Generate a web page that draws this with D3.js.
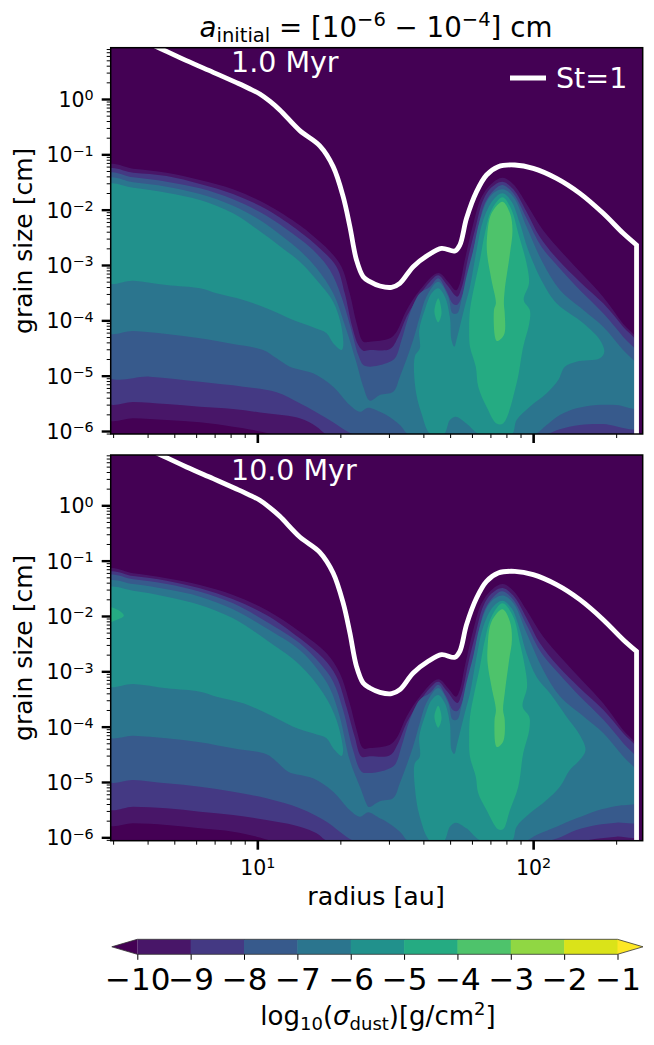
<!DOCTYPE html>
<html>
<head>
<meta charset="utf-8">
<script src="https://cdn.jsdelivr.net/npm/d3@7"></script>
<style>
body { margin: 0; background: #fff; }
text { font-family: "DejaVu Sans", sans-serif; fill: #000; }
</style>
</head>
<body>
<div id="d3_container"></div>
<script>
// all contour points are [log10 radius (au), log10 grain size (cm)]
var levels = [-10, -9, -8, -7, -6, -5, -4, -3, -2, -1];
var yMajorExp = [-6, -5, -4, -3, -2, -1, 0];
var xMajor = [10, 100];
var xMinor = [3, 4, 5, 6, 7, 8, 9, 20, 30, 40, 50, 60, 70, 80, 90, 200];
var panelNames = ["1.0 Myr", "10.0 Myr"];

// St=1 line, same in both panels
var stokes = [[0.62,0.98],[0.6525,0.9037],[0.7431,0.6928],[0.8398,0.482],[0.9244,0.2952],[0.97,0.19],[1.009,0.09],[1.045,-0.04],[1.0815,-0.1988],[1.1541,-0.5723],[1.2266,-0.8493],[1.2749,-1.2228],[1.3112,-1.765],[1.3353,-2.3],[1.3595,-2.9098],[1.3837,-3.211],[1.408,-3.3012],[1.4443,-3.3795],[1.4866,-3.4036],[1.5168,-3.3313],[1.5651,-3.0301],[1.6195,-2.8193],[1.6678,-2.6988],[1.7162,-2.747],[1.7343,-2.6385],[1.7585,-2.1566],[1.7948,-1.6747],[1.831,-1.3735],[1.8733,-1.2229],[1.9337,-1.1928],[2.0002,-1.253],[2.0848,-1.4337],[2.1694,-1.7048],[2.254,-2.0663],[2.3265,-2.4277],[2.3749,-2.6385]];
var stokesEnd = [2.3749, -6.2];

// upper edge of each level right of the gap, same in both panels
var ridgeM10 = [[1.408,-4.386],[1.481,-4.325],[1.505,-4.205],[1.541,-3.819],[1.589,-3.458],[1.656,-3.145],[1.692,-3.307],[1.72,-3.458],[1.734,-3.337],[1.752,-2.916],[1.783,-2.253],[1.813,-1.771],[1.849,-1.53],[1.889,-1.422],[1.928,-1.542],[1.976,-1.892],[2.036,-2.373],[2.109,-2.795],[2.182,-3.187],[2.254,-3.578],[2.326,-4.06],[2.39,-4.45]];
var ridgeM9 = [[1.408,-4.536],[1.481,-4.518],[1.511,-4.295],[1.541,-3.934],[1.589,-3.542],[1.626,-3.301],[1.656,-3.187],[1.688,-3.361],[1.725,-3.572],[1.74,-3.422],[1.765,-2.849],[1.789,-2.367],[1.819,-1.825],[1.849,-1.596],[1.889,-1.494],[1.928,-1.632],[1.976,-2.036],[2.024,-2.488],[2.091,-2.91],[2.169,-3.301],[2.254,-3.693],[2.326,-4.114],[2.39,-4.5]];
var ridgeM8 = [[1.408,-4.837],[1.468,-4.777],[1.499,-4.687],[1.523,-4.355],[1.553,-3.873],[1.589,-3.512],[1.626,-3.392],[1.656,-3.241],[1.684,-3.452],[1.71,-3.705],[1.725,-3.717],[1.746,-3.512],[1.771,-3.03],[1.797,-2.428],[1.825,-1.885],[1.861,-1.632],[1.889,-1.554],[1.928,-1.705],[1.976,-2.157],[2.03,-2.669],[2.091,-3.03],[2.169,-3.452],[2.254,-3.873],[2.326,-4.295],[2.39,-4.68]];
var ridgeM7 = [[1.408,-5.452],[1.444,-5.349],[1.493,-5.289],[1.517,-5.018],[1.565,-4.355],[1.589,-3.934],[1.613,-3.572],[1.656,-3.301],[1.692,-3.572],[1.708,-3.873],[1.725,-3.873],[1.74,-3.632],[1.758,-3.211],[1.783,-2.729],[1.807,-2.187],[1.843,-1.765],[1.889,-1.632],[1.928,-1.765],[1.976,-2.307],[2.036,-2.97],[2.097,-3.452],[2.182,-3.813],[2.254,-4.114],[2.326,-4.536],[2.39,-4.9]];

// 1.0 Myr panel
var topUpperM10 = [[0.45,-1.215],[0.55,-1.259],[0.671,-1.331],[0.792,-1.464],[0.912,-1.633],[1.033,-1.904],[1.154,-2.283],[1.196,-2.45],[1.263,-2.75],[1.305,-3.03],[1.335,-3.512],[1.36,-4.054],[1.384,-4.386]];
var topUpperM9 = [[0.45,-1.29],[0.55,-1.331],[0.671,-1.391],[0.792,-1.536],[0.912,-1.717],[1.033,-1.994],[1.154,-2.398],[1.227,-2.7],[1.287,-3.03],[1.317,-3.512],[1.344,-4.115],[1.366,-4.446],[1.384,-4.548]];
var topUpperM8 = [[0.45,-1.365],[0.55,-1.416],[0.671,-1.494],[0.792,-1.614],[0.912,-1.813],[1.033,-2.108],[1.13,-2.44],[1.202,-2.729],[1.263,-3.09],[1.305,-3.572],[1.341,-4.175],[1.366,-4.627],[1.384,-4.807]];
var topUpperM7 = [[0.45,-1.455],[0.55,-1.506],[0.671,-1.584],[0.792,-1.717],[0.912,-1.928],[1.009,-2.187],[1.088,-2.47],[1.154,-2.74],[1.215,-3.06],[1.275,-3.512],[1.323,-4.175],[1.36,-4.777],[1.384,-5.199]];
var topLowerM10 = [[0.45,-5.771],[0.55,-5.771],[0.671,-5.801],[0.792,-5.843],[0.912,-5.922],[0.985,-5.982],[1.057,-6.06],[1.2,-6.2],[2.39,-6.2]];
var topLowerM9 = [[0.45,-5.476],[0.55,-5.476],[0.671,-5.512],[0.792,-5.56],[0.912,-5.602],[1.033,-5.681],[1.154,-5.771],[1.215,-5.922],[1.251,-6.06],[1.4,-6.2],[2.39,-6.2]];
var topLowerM8 = [[0.45,-4.988],[0.61,-5.018],[0.792,-5.109],[0.949,-5.199],[1.07,-5.301],[1.154,-5.5],[1.251,-5.771],[1.299,-5.922],[1.347,-6.06],[1.45,-6.2],[1.95,-6.2],[2.049,-6.06],[2.097,-5.97],[2.169,-5.892],[2.254,-5.874],[2.39,-5.93]];
var topLowerM7 = [[0.45,-4.205],[0.55,-4.193],[0.671,-4.247],[0.792,-4.325],[0.912,-4.428],[1.021,-4.536],[1.07,-4.687],[1.118,-4.837],[1.202,-4.958],[1.275,-5.199],[1.335,-5.53],[1.372,-5.651],[1.402,-5.578],[1.444,-5.651],[1.468,-5.711],[1.517,-5.892],[1.547,-6.06],[1.65,-6.2],[1.9,-6.2],[2.006,-6.06],[2.049,-5.892],[2.097,-5.711],[2.157,-5.59],[2.23,-5.53],[2.302,-5.53],[2.39,-5.58]];
var topLeftM6 = [[0.45,-1.56],[0.55,-1.602],[0.671,-1.693],[0.792,-1.825],[0.912,-2.066],[1.003,-2.367],[1.082,-2.66],[1.154,-2.94],[1.215,-3.271],[1.275,-3.663],[1.305,-4.115],[1.311,-4.476],[1.305,-4.536],[1.275,-4.416],[1.251,-4.235],[1.202,-4.127],[1.13,-3.994],[1.033,-3.783],[0.949,-3.633],[0.852,-3.512],[0.792,-3.422],[0.671,-3.362],[0.55,-3.283],[0.45,-3.305]];
var topRightM6 = [[1.628,-6.06],[1.595,-5.681],[1.574,-5.259],[1.571,-4.656],[1.589,-4.506],[1.587,-4.175],[1.607,-3.813],[1.632,-3.512],[1.656,-3.422],[1.68,-3.572],[1.698,-3.934],[1.704,-4.355],[1.714,-4.476],[1.725,-4.295],[1.752,-3.753],[1.771,-3.392],[1.795,-2.729],[1.819,-2.187],[1.855,-1.825],[1.889,-1.705],[1.922,-1.855],[1.952,-2.247],[1.982,-2.729],[2.036,-3.331],[2.085,-3.693],[2.182,-4.054],[2.242,-4.355],[2.258,-4.566],[2.242,-4.687],[2.157,-4.747],[2.115,-4.837],[2.091,-5.078],[2.049,-5.319],[1.988,-5.56],[1.94,-5.801],[1.922,-6.06],[1.807,-6.06],[1.758,-5.862],[1.72,-5.741],[1.698,-5.801],[1.676,-6.06]];
var topIslandM5 = [[1.656,-3.602],[1.668,-3.873],[1.656,-4.036],[1.642,-3.843]];
var topMainM5 = [[1.768,-4.175],[1.771,-3.813],[1.789,-3.331],[1.807,-2.91],[1.825,-2.428],[1.849,-2.006],[1.889,-1.777],[1.922,-2.006],[1.946,-2.428],[1.976,-2.97],[1.985,-3.331],[1.966,-3.632],[1.988,-3.813],[1.986,-4.054],[1.964,-4.476],[1.94,-5.138],[1.891,-5.862],[1.867,-5.862],[1.831,-5.56],[1.801,-5.199],[1.792,-4.837],[1.771,-4.476]];
var topMainM4 = [[1.889,-1.855],[1.916,-2.066],[1.925,-2.367],[1.916,-2.789],[1.897,-3.452],[1.894,-3.705],[1.897,-3.873],[1.894,-4.265],[1.868,-4.373],[1.858,-3.813],[1.865,-3.693],[1.849,-3.271],[1.833,-2.789],[1.833,-2.488],[1.849,-2.066]];

// 10.0 Myr panel
var botUpperM10 = [[0.45,-1.175],[0.55,-1.229],[0.671,-1.32],[0.792,-1.44],[0.912,-1.621],[1.033,-1.892],[1.154,-2.283],[1.251,-2.675],[1.299,-3.036],[1.335,-3.579],[1.36,-4.06],[1.384,-4.392]];
var botUpperM9 = [[0.45,-1.235],[0.55,-1.277],[0.671,-1.362],[0.792,-1.5],[0.912,-1.699],[1.033,-1.982],[1.154,-2.404],[1.239,-2.765],[1.287,-3.097],[1.323,-3.639],[1.353,-4.181],[1.378,-4.542]];
var botUpperM8 = [[0.45,-1.295],[0.55,-1.338],[0.671,-1.422],[0.792,-1.56],[0.912,-1.771],[1.033,-2.103],[1.154,-2.494],[1.227,-2.856],[1.275,-3.187],[1.311,-3.699],[1.347,-4.422],[1.378,-4.814]];
var botUpperM7 = [[0.45,-1.395],[0.55,-1.422],[0.671,-1.518],[0.792,-1.651],[0.912,-1.88],[1.033,-2.223],[1.154,-2.615],[1.215,-2.946],[1.263,-3.307],[1.299,-3.82],[1.335,-4.603],[1.372,-5.085],[1.402,-5.446]];
var botLowerM10 = [[0.45,-5.747],[0.55,-5.747],[0.671,-5.777],[0.792,-5.837],[0.912,-5.898],[0.997,-5.988],[1.057,-6.066],[1.2,-6.2],[2.39,-6.2]];
var botLowerM9 = [[0.45,-5.464],[0.55,-5.446],[0.671,-5.476],[0.792,-5.536],[0.912,-5.596],[1.033,-5.687],[1.154,-5.807],[1.215,-5.928],[1.253,-6.066],[1.4,-6.2],[2.05,-6.2],[2.182,-6.066],[2.23,-6.024],[2.302,-5.988],[2.39,-5.965]];
var botLowerM8 = [[0.45,-4.964],[0.55,-4.964],[0.671,-5.024],[0.792,-5.085],[0.912,-5.175],[1.033,-5.295],[1.154,-5.476],[1.251,-5.717],[1.299,-5.898],[1.35,-6.066],[1.45,-6.2],[1.95,-6.2],[2.055,-6.066],[2.103,-5.988],[2.157,-5.868],[2.23,-5.777],[2.302,-5.735],[2.39,-5.7]];
var botLowerM7 = [[0.45,-4.163],[0.55,-4.163],[0.671,-4.211],[0.792,-4.283],[0.912,-4.392],[1.033,-4.5],[1.07,-4.633],[1.112,-4.813],[1.202,-4.934],[1.275,-5.175],[1.335,-5.506],[1.372,-5.627],[1.402,-5.548],[1.444,-5.657],[1.468,-5.717],[1.517,-5.898],[1.547,-6.066],[1.65,-6.2],[1.85,-6.2],[1.974,-6.066],[2.012,-5.958],[2.085,-5.807],[2.157,-5.657],[2.23,-5.518],[2.302,-5.434],[2.39,-5.345]];
var botLeftM6 = [[0.45,-1.51],[0.55,-1.542],[0.671,-1.651],[0.792,-1.801],[0.912,-2.042],[1.033,-2.434],[1.154,-2.886],[1.239,-3.398],[1.287,-3.88],[1.311,-4.452],[1.305,-4.53],[1.275,-4.392],[1.251,-4.211],[1.202,-4.121],[1.13,-4],[1.033,-3.759],[0.949,-3.579],[0.852,-3.458],[0.792,-3.368],[0.671,-3.307],[0.55,-3.229],[0.45,-3.25]];
var botRightM6 = [[1.628,-6.066],[1.589,-5.627],[1.571,-5.085],[1.571,-4.663],[1.589,-4.542],[1.587,-4.181],[1.607,-3.82],[1.632,-3.518],[1.656,-3.428],[1.68,-3.578],[1.698,-3.94],[1.704,-4.422],[1.714,-4.494],[1.725,-4.301],[1.752,-3.759],[1.771,-3.398],[1.795,-2.735],[1.819,-2.193],[1.855,-1.832],[1.889,-1.723],[1.922,-1.862],[1.952,-2.253],[1.976,-2.675],[2.012,-3.097],[2.061,-3.398],[2.121,-3.82],[2.169,-4.151],[2.19,-4.422],[2.169,-4.603],[2.133,-4.783],[2.097,-5.085],[2.049,-5.325],[1.988,-5.566],[1.94,-5.807],[1.922,-6.066],[1.813,-6.066],[1.758,-5.837],[1.72,-5.735],[1.698,-5.807],[1.676,-6.066]];
var botEdgeM5 = [[0.44,-1.832],[0.495,-1.892],[0.516,-1.994],[0.495,-2.061],[0.44,-2.133]];
var botIslandM5 = [[1.656,-3.621],[1.668,-3.85],[1.656,-4.018],[1.642,-3.82]];
var botMainM5 = [[1.768,-4.181],[1.771,-3.82],[1.789,-3.338],[1.807,-2.916],[1.825,-2.434],[1.849,-2.012],[1.889,-1.771],[1.928,-2.012],[1.952,-2.494],[1.97,-2.916],[1.978,-3.277],[1.962,-3.639],[1.986,-3.82],[1.986,-4.06],[1.964,-4.482],[1.946,-5.085],[1.916,-5.506],[1.891,-5.856],[1.873,-5.856],[1.831,-5.506],[1.801,-5.205],[1.792,-4.904],[1.771,-4.542]];
var botMainM4 = [[1.889,-1.88],[1.916,-2.103],[1.923,-2.434],[1.913,-2.795],[1.897,-3.398],[1.891,-3.699],[1.897,-3.88],[1.891,-4.271],[1.868,-4.368],[1.86,-3.88],[1.865,-3.699],[1.849,-3.277],[1.835,-2.856],[1.835,-2.554],[1.849,-2.103]];

function band(upper, ridge, lower) {
    return upper.concat(ridge, lower.slice().reverse());
}

// painted in this order, higher levels on top
var topLayers = [
    [-10, band(topUpperM10, ridgeM10, topLowerM10)],
    [-9, band(topUpperM9, ridgeM9, topLowerM9)],
    [-8, band(topUpperM8, ridgeM8, topLowerM8)],
    [-7, band(topUpperM7, ridgeM7, topLowerM7)],
    [-6, topLeftM6], [-6, topRightM6],
    [-5, topIslandM5], [-5, topMainM5],
    [-4, topMainM4]
];
var botLayers = [
    [-10, band(botUpperM10, ridgeM10, botLowerM10)],
    [-9, band(botUpperM9, ridgeM9, botLowerM9)],
    [-8, band(botUpperM8, ridgeM8, botLowerM8)],
    [-7, band(botUpperM7, ridgeM7, botLowerM7)],
    [-6, botLeftM6], [-6, botRightM6],
    [-5, botEdgeM5], [-5, botIslandM5], [-5, botMainM5],
    [-4, botMainM4]
];

var width = 654, height = 1045;
var svg = d3.select("#d3_container").append("svg")
    .attr("width", width).attr("height", height)
    .style("display", "block");

var color = d3.scaleSequential(d3.interpolateViridis).domain([-10, -1]);

var x = d3.scaleLog().domain([2.94, 249.6]).range([110.7, 642.7]);
var panels = [
    { name: panelNames[0], layers: topLayers, y: d3.scaleLog().domain([Math.pow(10, -6.054), Math.pow(10, 0.927)]).range([434, 47.7]), labelY: 72, showX: false },
    { name: panelNames[1], layers: botLayers, y: d3.scaleLog().domain([Math.pow(10, -6.061), Math.pow(10, 0.909)]).range([840.7, 455]), labelY: 480, showX: true }
];

var yMinor = [];
yMajorExp.concat([-7]).forEach(function(e) {
    for (var m = 2; m < 10; m++) yMinor.push(m * Math.pow(10, e));
});

function powerLabel(sel, exp) {
    sel.text(null);
    sel.append("tspan").text("10");
    sel.append("tspan").attr("dy", "-0.47em").style("font-size", "70%").text(String(exp).replace("-", "\u2212"));
}

panels.forEach(function(p, i) {
    var g = svg.append("g");
    var y = p.y;
    var clipId = "clip" + i;
    g.append("clipPath").attr("id", clipId).append("rect")
        .attr("x", x.range()[0]).attr("y", y.range()[1])
        .attr("width", x(Math.pow(10, 2.375)) - x.range()[0])
        .attr("height", y.range()[0] - y.range()[1]);

    g.append("rect")
        .attr("x", x.range()[0]).attr("y", y.range()[1])
        .attr("width", x.range()[1] - x.range()[0])
        .attr("height", y.range()[0] - y.range()[1])
        .attr("fill", color(-10));

    var ring = d3.line()
        .x(function(d) { return x(Math.pow(10, d[0])); })
        .y(function(d) { return y(Math.pow(10, d[1])); })
        .curve(d3.curveCatmullRomClosed.alpha(0.5));

    g.append("g").attr("clip-path", "url(#" + clipId + ")")
        .selectAll("path").data(p.layers).enter().append("path")
        .attr("d", function(d) { return ring(d[1]); })
        .attr("fill", function(d) { return color(d[0] + 0.5); });

    // St=1 line
    var open = d3.line()
        .x(function(d) { return x(Math.pow(10, d[0])); })
        .y(function(d) { return y(Math.pow(10, d[1])); })
        .curve(d3.curveCatmullRom.alpha(0.5));
    g.append("clipPath").attr("id", clipId + "b").append("rect")
        .attr("x", x.range()[0]).attr("y", y.range()[1])
        .attr("width", x.range()[1] - x.range()[0])
        .attr("height", y.range()[0] - y.range()[1]);
    g.append("path")
        .attr("clip-path", "url(#" + clipId + "b)")
        .attr("d", open(stokes) + "L" + x(Math.pow(10, stokesEnd[0])) + "," + y(Math.pow(10, stokesEnd[1])))
        .attr("fill", "none").attr("stroke", "#fff").attr("stroke-width", 4.8);

    // axes
    var yAxis = g.append("g").attr("transform", "translate(" + x.range()[0] + ",0)")
        .call(d3.axisLeft(y).tickValues(yMajorExp.map(function(e) { return Math.pow(10, e); }))
            .tickSize(9).tickPadding(8).tickFormat(""));
    yAxis.select(".domain").remove();
    yAxis.selectAll(".tick line").attr("stroke-width", 2.4);
    yAxis.selectAll(".tick text").style("font-size", "20.5px").attr("dy", "0.37em")
        .each(function(d, k) { powerLabel(d3.select(this), yMajorExp[k]); });

    var yMin = g.append("g").attr("transform", "translate(" + x.range()[0] + ",0)")
        .call(d3.axisLeft(y).tickValues(yMinor.filter(function(v) { return v >= y.domain()[0] && v <= y.domain()[1]; }))
            .tickSize(4).tickFormat(""));
    yMin.select(".domain").remove();

    var xAxis = g.append("g").attr("transform", "translate(0," + y.range()[0] + ")")
        .call(d3.axisBottom(x).tickValues(xMajor).tickSize(9).tickPadding(11).tickFormat(""));
    xAxis.select(".domain").remove();
    xAxis.selectAll(".tick line").attr("stroke-width", 2.6);
    if (p.showX) {
        xAxis.selectAll(".tick text").style("font-size", "20.5px")
            .each(function(d) { powerLabel(d3.select(this), Math.round(Math.log10(d))); });
    }
    var xMin = g.append("g").attr("transform", "translate(0," + y.range()[0] + ")")
        .call(d3.axisBottom(x).tickValues(xMinor).tickSize(4).tickFormat(""));
    xMin.select(".domain").remove();

    g.append("rect")
        .attr("x", x.range()[0]).attr("y", y.range()[1])
        .attr("width", x.range()[1] - x.range()[0])
        .attr("height", y.range()[0] - y.range()[1])
        .attr("fill", "none").attr("stroke", "#000").attr("stroke-width", 1.5);

    g.append("text").attr("x", 231).attr("y", p.labelY)
        .style("font-size", "28.5px").style("fill", "#fff").text(p.name);

    g.append("text")
        .attr("transform", "translate(32," + (y.range()[0] + y.range()[1]) / 2 + ") rotate(-90)")
        .attr("text-anchor", "middle").style("font-size", "25px").text("grain size [cm]");
});

// title
var title = svg.append("text").attr("x", 376).attr("y", 37).attr("text-anchor", "middle").style("font-size", "27.7px");
title.append("tspan").style("font-style", "italic").text("a");
title.append("tspan").attr("dy", 4.5).style("font-size", "19.5px").text("initial");
title.append("tspan").attr("dy", -4.5).text(" = [10");
title.append("tspan").attr("dy", -11).style("font-size", "19.5px").text("\u22126");
title.append("tspan").attr("dy", 11).text(" \u2212 10");
title.append("tspan").attr("dy", -11).style("font-size", "19.5px").text("\u22124");
title.append("tspan").attr("dy", 11).text("] cm");

// legend
svg.append("line").attr("x1", 510).attr("x2", 546).attr("y1", 78).attr("y2", 78)
    .attr("stroke", "#fff").attr("stroke-width", 4.8);
svg.append("text").attr("x", 556).attr("y", 88).style("font-size", "28.5px").style("fill", "#fff").text("St=1");

svg.append("text").attr("x", 376).attr("y", 905).attr("text-anchor", "middle").style("font-size", "25.3px").text("radius [au]");

// colorbar
var cx = d3.scaleLinear().domain([-10, -1]).range([137.3, 617.5]);
var barTop = 939.3, barBottom = 954.3, tipLen = 25.5;
var cbar = svg.append("g");
cbar.selectAll("rect").data(levels.slice(0, -1)).enter().append("rect")
    .attr("x", function(d) { return cx(d); })
    .attr("y", barTop)
    .attr("width", function(d) { return cx(d + 1) - cx(d) + 0.5; })
    .attr("height", barBottom - barTop)
    .attr("fill", function(d) { return color(d + 0.5); });
var barMid = (barTop + barBottom) / 2;
cbar.append("path")
    .attr("d", d3.line()([[cx(-10), barTop], [cx(-10) - tipLen, barMid], [cx(-10), barBottom]]))
    .attr("fill", color(-10));
cbar.append("path")
    .attr("d", d3.line()([[cx(-1), barTop], [cx(-1) + tipLen, barMid], [cx(-1), barBottom]]))
    .attr("fill", color(-1));
cbar.append("path")
    .attr("d", d3.line()([[cx(-10), barTop], [cx(-1), barTop], [cx(-1) + tipLen, barMid], [cx(-1), barBottom], [cx(-10), barBottom], [cx(-10) - tipLen, barMid]]) + "Z")
    .attr("fill", "none").attr("stroke", "#333").attr("stroke-width", 0.8);
var cAxis = cbar.append("g").attr("transform", "translate(0," + barBottom + ")")
    .call(d3.axisBottom(cx).tickValues(levels).tickSize(5.5).tickPadding(8.5).tickFormat(d3.format("d")));
cAxis.select(".domain").remove();
cAxis.selectAll("text").style("font-size", "31px").attr("dy", "0.7em");

var cLabel = svg.append("text").attr("x", 378).attr("y", 1025).attr("text-anchor", "middle").style("font-size", "26px");
cLabel.append("tspan").text("log");
cLabel.append("tspan").attr("dy", 4.5).style("font-size", "18px").text("10");
cLabel.append("tspan").attr("dy", -4.5).text("(");
cLabel.append("tspan").style("font-style", "italic").text("\u03c3");
cLabel.append("tspan").attr("dy", 4.5).style("font-size", "18px").text("dust");
cLabel.append("tspan").attr("dy", -4.5).text(")[g/cm");
cLabel.append("tspan").attr("dy", -10).style("font-size", "18px").text("2");
cLabel.append("tspan").attr("dy", 10).text("]");
</script>
</body>
</html>
